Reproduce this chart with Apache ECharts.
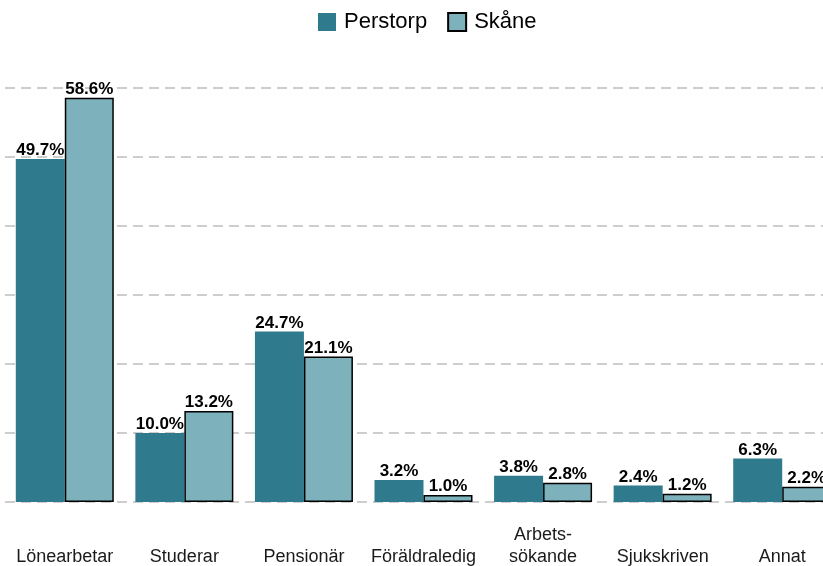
<!DOCTYPE html>
<html>
<head>
<meta charset="utf-8">
<script src="https://cdn.jsdelivr.net/npm/echarts@6/dist/echarts.min.js"></script>
<style>
  html, body { margin: 0; padding: 0; background: #fff; overflow: hidden; }
  /* plot panel runs past the right edge of the window, as in the reference */
  #chart { width: 842px; height: 566px; }
</style>
</head>
<body>
<div id="chart"></div>
<script>
const categories = ['Lönearbetar', 'Studerar', 'Pensionär', 'Föräldraledig', 'Arbets-\nsökande', 'Sjukskriven', 'Annat']
const perstorp = [49.7, 10.0, 24.7, 3.2, 3.8, 2.4, 6.3]
const skane = [58.6, 13.2, 21.1, 1.0, 2.8, 1.2, 2.2]

const font = 'Liberation Sans, Arial, sans-serif'

const barLabel = {
  show: true,
  position: 'top',
  distance: 0,
  fontFamily: font,
  fontSize: 17,
  fontWeight: 'bold',
  color: '#000',
  formatter: p => p.value.toFixed(1) + '%',
}

const chart = echarts.init(document.getElementById('chart'))
chart.setOption({
  animation: false,
  legend: {
    top: 6,
    left: 313,
    itemWidth: 18,
    itemHeight: 18,
    itemGap: 20,
    icon: 'rect',
    textStyle: { fontFamily: font, fontSize: 22, color: '#000', padding: [0, 0, 0, 3] },
    data: ['Perstorp', 'Skåne'],
  },
  grid: { left: 5, right: 0, top: 88, bottom: 64, outerBoundsMode: 'none' },
  xAxis: {
    type: 'category',
    data: categories,
    axisLine: { show: false },
    axisTick: { show: false },
    axisLabel: {
      fontFamily: font,
      fontSize: 18,
      color: '#1a1a1a',
      lineHeight: 22,
      verticalAlign: 'bottom',
      margin: 66,
      interval: 0,
    },
  },
  yAxis: {
    type: 'value',
    min: 0,
    max: 60,
    interval: 10,
    axisLabel: { show: false },
    axisLine: { show: false },
    axisTick: { show: false },
    splitLine: { lineStyle: { color: '#bdbdbd', width: 1.5, type: [10, 6] } },
  },
  series: [
    {
      name: 'Perstorp',
      type: 'bar',
      data: perstorp,
      barWidth: 49,
      barGap: '0%',
      itemStyle: { color: '#2f7b8d' },
      label: barLabel,
    },
    {
      name: 'Skåne',
      type: 'bar',
      data: skane,
      barWidth: 49,
      itemStyle: { color: '#7db2bc', borderColor: '#000', borderWidth: 1.5 },
      label: barLabel,
    },
  ],
})
</script>
</body>
</html>
